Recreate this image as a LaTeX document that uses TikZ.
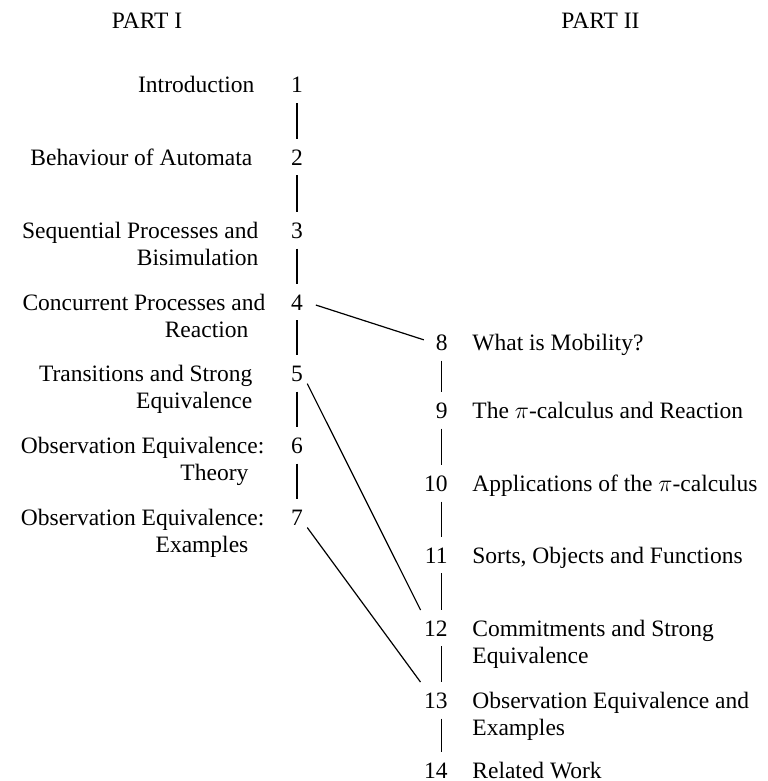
\documentclass[tikz,border=0pt]{standalone}
\usepackage{fontspec}
\setmainfont{Liberation Serif}
\usetikzlibrary{positioning}

\tikzset{
	chap/.style={font=\fontsize{11.75}{13.5}\selectfont, inner sep=0pt},
	twoline/.style={yshift=-13.5pt},
	num/.style={font=\fontsize{11.75}{13.5}\selectfont, anchor=base, inner xsep=2pt, inner ysep=5pt},
	link/.style={line width=0.6pt}
}

\begin{document}
\begin{tikzpicture}[x=0.5pt, y=-0.5pt]
	\useasboundingbox (0,0) rectangle (767,781);
	
	\node[chap, anchor=base] (part1) at (147,29) {PART I};
	\node[chap, anchor=base west] (part2) at (561,29) {PART II};
	
	% part I
	\node[num] (n1) at (297,93) {1};
	\node[num] (n2) at (297,165) {2};
	\node[num] (n3) at (297,238) {3};
	\node[num] (n4) at (297,310) {4};
	\node[num] (n5) at (297,381) {5};
	\node[num] (n6) at (297,453) {6};
	\node[num] (n7) at (297,525) {7};
	
	\node[chap, align=right, base left=16pt of n1] (t1) {Introduction};
	\node[chap, align=right, base left=17pt of n2] (t2) {Behaviour of Automata};
	\node[chap, align=right, twoline, base left=14pt of n3] (t3) {Sequential Processes and\\Bisimulation};
	\node[chap, align=right, twoline, base left=10.5pt of n4] (t4) {Concurrent Processes and\\Reaction\kern8.5pt};
	\node[chap, align=right, twoline, base left=17pt of n5] (t5) {Transitions and Strong\\Equivalence};
	\node[chap, align=right, twoline, base left=11pt of n6] (t6) {Observation Equivalence:\\Theory\kern8pt};
	\node[chap, align=right, twoline, base left=11pt of n7] (t7) {Observation Equivalence:\\Examples\kern8pt};
	
	% part II
	\node[num, anchor=base east] (n8) at (452,350) {8};
	\node[num, anchor=base east] (n9) at (452,418) {9};
	\node[num, anchor=base east] (n10) at (452,491) {10};
	\node[num, anchor=base east] (n11) at (452,563) {11};
	\node[num, anchor=base east] (n12) at (452,636) {12};
	\node[num, anchor=base east] (n13) at (452,708) {13};
	\node[num, anchor=base east] (n14) at (452,778) {14};
	
	\node[chap, align=left, base right=10pt of n8] (t8) {What is Mobility?};
	\node[chap, align=left, base right=10pt of n9] (t9) {The $\pi$-calculus and Reaction};
	\node[chap, align=left, base right=10pt of n10] (t10) {Applications of the $\pi$-calculus};
	\node[chap, align=left, base right=10pt of n11] (t11) {Sorts, Objects and Functions};
	\node[chap, align=left, twoline, base right=10pt of n12] (t12) {Commitments and Strong\\Equivalence};
	\node[chap, align=left, twoline, base right=10pt of n13] (t13) {Observation Equivalence and\\Examples};
	\node[chap, align=left, base right=10pt of n14] (t14) {Related Work};
	
	\draw[link] (n1) -- (n2) -- (n3) -- (n4) -- (n5) -- (n6) -- (n7);
	\foreach \a/\b in {8/9, 9/10, 10/11, 11/12, 12/13, 13/14}
		\draw[link] (n8 |- n\a.south) -- (n8 |- n\b.north);
	
	\draw[link, shorten <=4.5pt, shorten >=4pt] (n4.east) -- (n8.west);
	\draw[link] (n5.-45) -- (n12.130);
	\draw[link] (n7.-45) -- (n13.130);
\end{tikzpicture}
\end{document}
